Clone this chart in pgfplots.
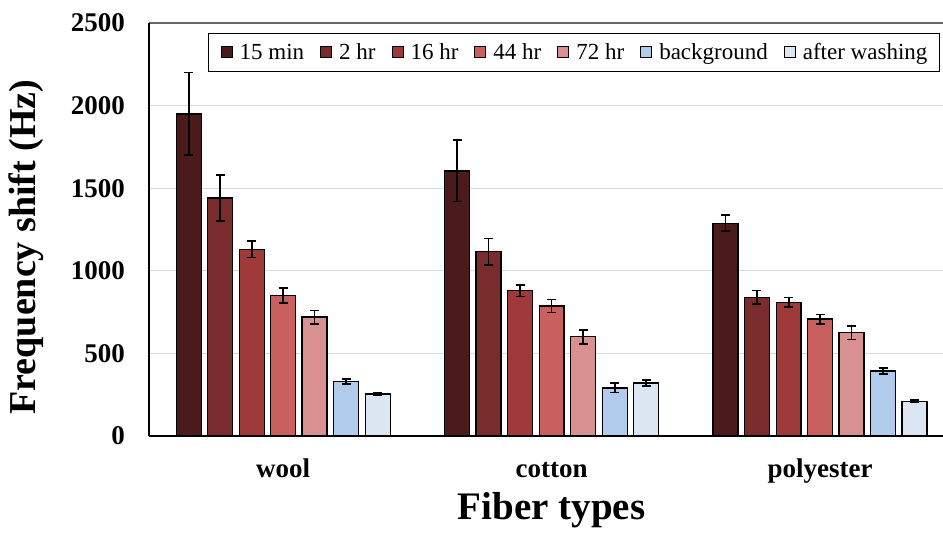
\documentclass[border=0pt]{standalone}
\usepackage{fontspec}
\setmainfont{Liberation Serif}
\usepackage{pgfplots}
\pgfplotsset{compat=1.18}
\definecolor{cA}{HTML}{4B1A1A}
\definecolor{cB}{HTML}{7A2C2C}
\definecolor{cC}{HTML}{A03A3A}
\definecolor{cD}{HTML}{C86060}
\definecolor{cE}{HTML}{D99090}
\definecolor{cF}{HTML}{B0CBEB}
\definecolor{cG}{HTML}{DCE6F2}
\pgfplotsset{
  mylegend/.style={legend image code/.code={\draw[##1,draw=black,line width=1pt] (0pt,-5.5pt) rectangle (11pt,5.5pt);}},
  myerr/.style={error bars/.cd, y dir=both, y explicit,
     error bar style={line width=1.7pt, black},
     error mark options={rotate=90, mark size=4.5pt, line width=1.7pt, black}},
}
\begin{document}
\begin{tikzpicture}
\begin{axis}[
  scale only axis, width=794pt, height=413pt,
  xmin=-0.5, xmax=2.458, ymin=0, ymax=2500,
  ybar, bar width=0.093,
  axis line style={draw=none},
  xtick={0,1,2}, xticklabels={wool,cotton,polyester},
  ytick={0,500,...,2500},
  major tick length=0pt,
  ymajorgrids, grid style={draw=black!15, line width=0.9pt},
  /pgf/number format/1000 sep={},
  /pgf/number format/assume math mode=true,
  ticklabel style={font=\bfseries\fontsize{27}{27}\selectfont},
  yticklabel style={anchor=east, inner sep=0pt, xshift=-24pt},
  xticklabel style={anchor=base, inner sep=0pt, yshift=-41pt},
  xlabel={Fiber types}, ylabel={Frequency shift (Hz)},
  every axis x label/.style={at={(rel axis cs:0.507,-0.201)}, anchor=base, font=\bfseries\fontsize{39}{39}\selectfont},
  every axis y label/.style={at={(rel axis cs:-0.1431,0.4576)}, anchor=base, rotate=90, font=\bfseries\fontsize{38}{38}\selectfont},
  legend columns=7,
  legend style={at={(rel axis cs:1,1)}, anchor=north east, xshift=-3pt, yshift=-10pt,
     draw=black, line width=1.2pt, font=\fontsize{23}{23}\selectfont,
     inner xsep=12pt, inner ysep=8pt,
     nodes={inner xsep=0pt},
     /tikz/every odd column/.append style={column sep=7pt},
     /tikz/every even column/.append style={column sep=16pt}},
  extra description/.code={
    \draw[black!60, line width=1.3pt] (rel axis cs:0,1) -- (rel axis cs:1,1);
    \draw[black, line width=1.2pt] (rel axis cs:0,0) -- (rel axis cs:0,1);
    \draw[black, line width=2pt] (rel axis cs:0,0) -- (rel axis cs:1,0);
    \coordinate (SW) at (rel axis cs:0,0);
    \coordinate (NE) at (rel axis cs:1,1);
  },
]
\addplot[fill=cA, draw=black, line width=1.3pt, bar shift=-0.352, mylegend, myerr] coordinates {(0,1950) +- (0,250) (1,1605) +- (0,185) (2,1288) +- (0,48)};
\addplot[fill=cB, draw=black, line width=1.3pt, bar shift=-0.235, mylegend, myerr] coordinates {(0,1440) +- (0,140) (1,1115) +- (0,80) (2,839) +- (0,42)};
\addplot[fill=cC, draw=black, line width=1.3pt, bar shift=-0.117, mylegend, myerr] coordinates {(0,1130) +- (0,50) (1,880) +- (0,36) (2,809) +- (0,30)};
\addplot[fill=cD, draw=black, line width=1.3pt, bar shift=0, mylegend, myerr] coordinates {(0,850) +- (0,44) (1,787) +- (0,40) (2,708) +- (0,28)};
\addplot[fill=cE, draw=black, line width=1.3pt, bar shift=0.117, mylegend, myerr] coordinates {(0,720) +- (0,40) (1,601) +- (0,42) (2,625) +- (0,40)};
\addplot[fill=cF, draw=black, line width=1.3pt, bar shift=0.235, mylegend, myerr] coordinates {(0,330) +- (0,15) (1,291) +- (0,28) (2,394) +- (0,18)};
\addplot[fill=cG, draw=black, line width=1.3pt, bar shift=0.352, mylegend, myerr] coordinates {(0,255) +- (0,8) (1,320) +- (0,18) (2,210) +- (0,8)};
\legend{15 min,2 hr,16 hr,44 hr,72 hr,background,after washing}
\end{axis}
\pgfresetboundingbox
\path[use as bounding box] ([shift={(-149pt,-97pt)}]SW) rectangle ([shift={(0pt,23pt)}]NE);
\end{tikzpicture}
\end{document}
